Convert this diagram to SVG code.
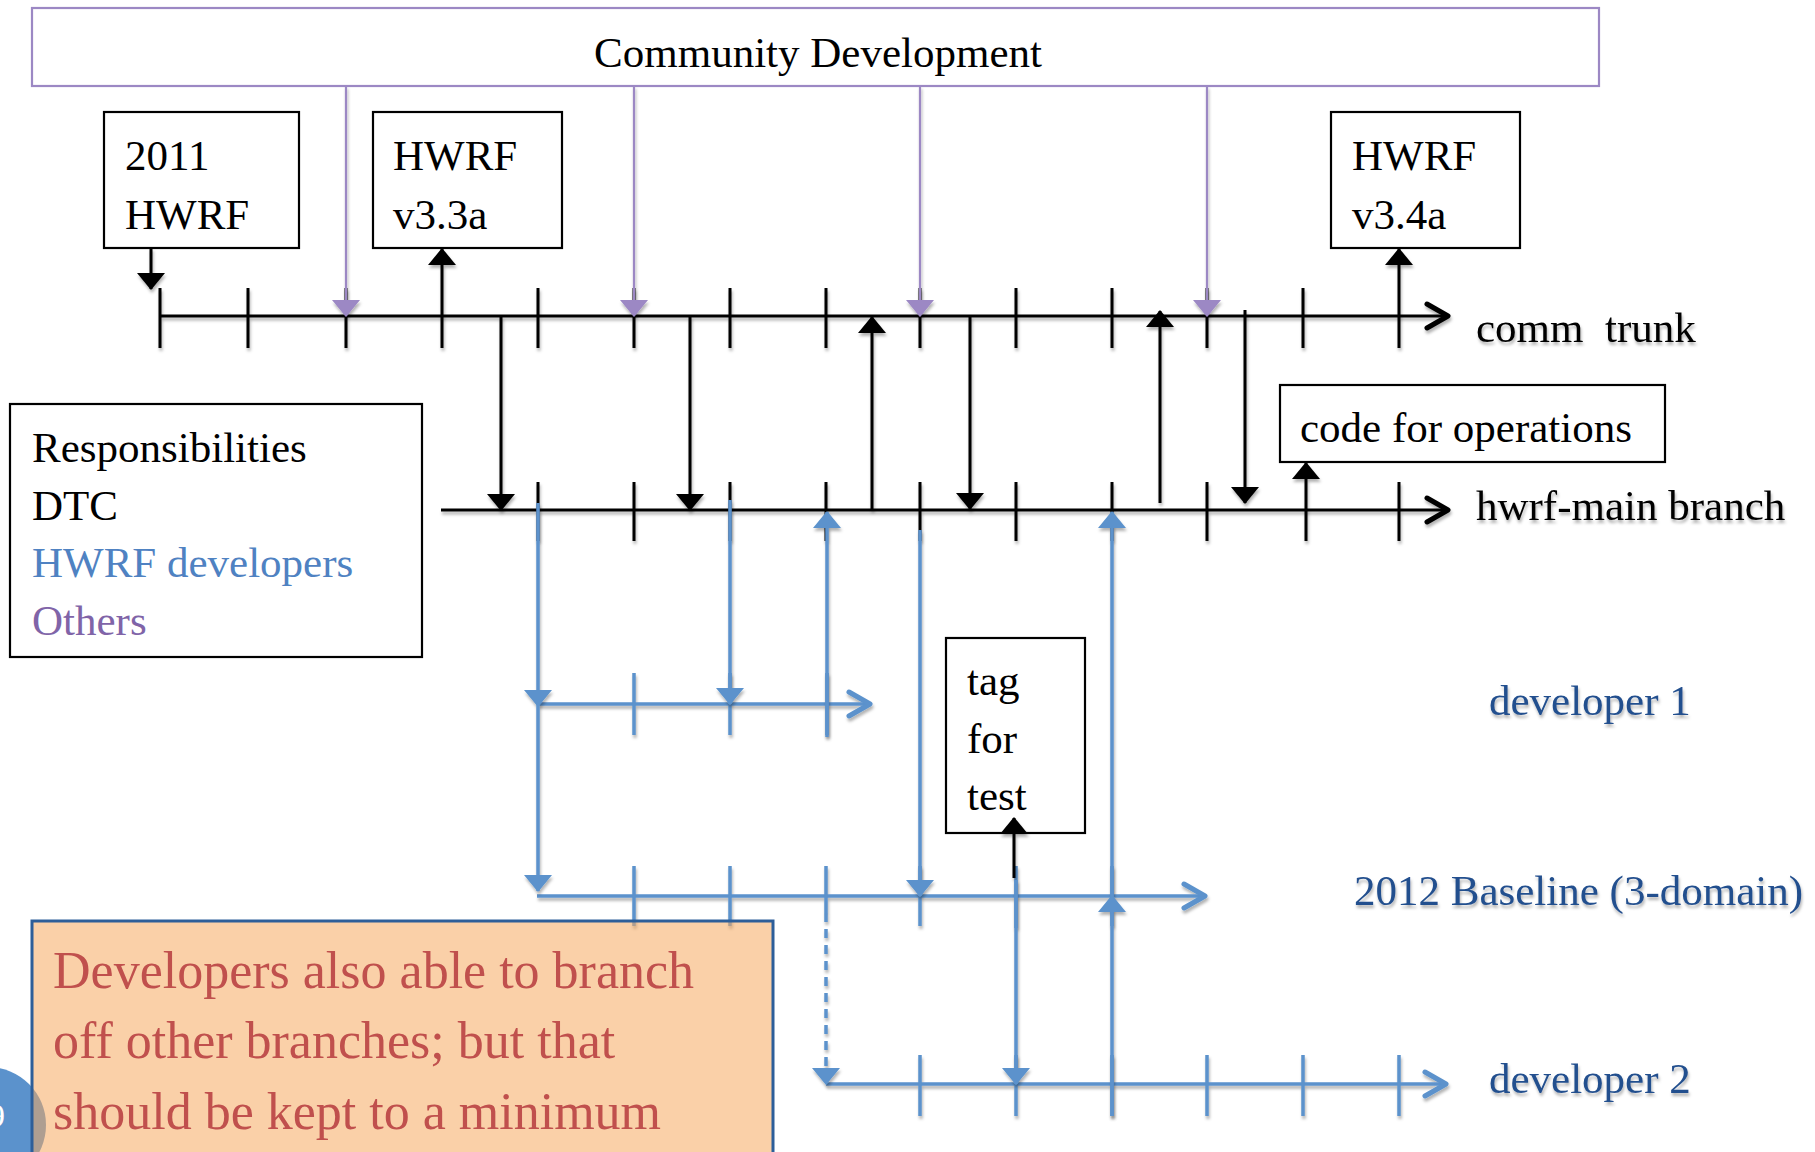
<svg xmlns="http://www.w3.org/2000/svg" width="1815" height="1152" viewBox="0 0 1815 1152">
<style>
text{font-family:"Liberation Serif","Times New Roman",serif;font-size:43px;fill:#000}
.box{fill:#fff;stroke:#000;stroke-width:2.2}
.k{stroke:#000;stroke-width:3;fill:none}
.kt{stroke:#000;stroke-width:3}
.b{stroke:#5b92cc;stroke-width:3.5;fill:none}
.p{stroke:#9c88c4;stroke-width:2.2;fill:none}
.lbl{fill:#234f8e}
</style>
<defs>
<filter id="sh" x="-20%" y="-20%" width="140%" height="140%">
<feDropShadow dx="1" dy="3" stdDeviation="1.6" flood-color="#000" flood-opacity="0.3"/>
</filter>
<marker id="tk" markerUnits="userSpaceOnUse" viewBox="0 -14 17 28" refX="16" refY="0" markerWidth="17" markerHeight="28" orient="auto"><path d="M0,-14 L17,0 L0,14 Z" fill="#000"/></marker>
<marker id="tb" markerUnits="userSpaceOnUse" viewBox="0 -14 17 28" refX="16" refY="0" markerWidth="17" markerHeight="28" orient="auto"><path d="M0,-14 L17,0 L0,14 Z" fill="#5b92cc"/></marker>
<marker id="tp" markerUnits="userSpaceOnUse" viewBox="0 -14 17 28" refX="16" refY="0" markerWidth="17" markerHeight="28" orient="auto"><path d="M0,-14 L17,0 L0,14 Z" fill="#9c88c4"/></marker>
<marker id="ck" markerUnits="userSpaceOnUse" viewBox="-26 -16 30 32" refX="0" refY="0" markerWidth="30" markerHeight="32" orient="auto"><path d="M-21,-12 L0,0 L-21,12" fill="none" stroke="#000" stroke-width="5" stroke-linecap="round" stroke-linejoin="round"/></marker>
<marker id="cb" markerUnits="userSpaceOnUse" viewBox="-26 -16 30 32" refX="0" refY="0" markerWidth="30" markerHeight="32" orient="auto"><path d="M-21,-12 L0,0 L-21,12" fill="none" stroke="#5b92cc" stroke-width="5" stroke-linecap="round" stroke-linejoin="round"/></marker>
</defs>
<rect width="1815" height="1152" fill="#fff"/>

<g id="community-development">
<rect x="32" y="8" width="1567" height="78" fill="none" stroke="#9c88c4" stroke-width="2.2"/>
<text x="818" y="67" text-anchor="middle">Community Development</text>
</g>

<g id="hwrf-2011">
<rect class="box" x="104" y="112" width="195" height="136"/>
<text x="125" y="170">2011</text>
<text x="125" y="229">HWRF</text>
</g>
<g id="hwrf-v33a">
<rect class="box" x="373" y="112" width="189" height="136"/>
<text x="393" y="170">HWRF</text>
<text x="393" y="229">v3.3a</text>
</g>
<g id="hwrf-v34a">
<rect class="box" x="1331" y="112" width="189" height="136"/>
<text x="1352" y="170">HWRF</text>
<text x="1352" y="229">v3.4a</text>
</g>
<g id="code-for-operations">
<rect class="box" x="1280" y="385" width="385" height="77"/>
<text x="1300" y="442">code for operations</text>
</g>
<g id="tag-for-test">
<rect class="box" x="946" y="638" width="139" height="195"/>
<text x="967" y="695">tag</text>
<text x="967" y="753">for</text>
<text x="967" y="810">test</text>
</g>
<g id="responsibilities">
<rect class="box" x="10" y="404" width="412" height="253"/>
<text x="32" y="462">Responsibilities</text>
<text x="32" y="520">DTC</text>
<text x="32" y="577" style="fill:#4f82c2">HWRF developers</text>
<text x="32" y="635" style="fill:#8064a8">Others</text>
</g>

<g id="comm-trunk" filter="url(#sh)">
<line class="k" x1="160" y1="316" x2="1448" y2="316" stroke-width="3.5" marker-end="url(#ck)"/>
<path class="kt" d="M160,288V348M248,288V348M346,288V348M538,288V348M634,288V348M730,288V348M826,288V348M920,288V348M1016,288V348M1112,288V348M1207,288V348M1303,288V348"/>
<text x="1476" y="342" xml:space="preserve" style="white-space:pre">comm  trunk</text>
</g>
<g id="hwrf-main-branch" filter="url(#sh)">
<line class="k" x1="441" y1="510" x2="1448" y2="510" stroke-width="3.5" marker-end="url(#ck)"/>
<path class="kt" d="M538,482V541M634,482V541M730,482V541M826,482V541M920,482V541M1016,482V541M1112,482V541M1207,482V541M1399,482V541"/>
<text x="1476" y="520">hwrf-main branch</text>
</g>
<g id="developer-1" filter="url(#sh)">
<line class="b" x1="538" y1="704" x2="870" y2="704" marker-end="url(#cb)"/>
<path class="b" d="M634,673V735M730,673V735M827,673V735"/>
<text class="lbl" x="1489" y="715">developer 1</text>
</g>
<g id="baseline-2012" filter="url(#sh)">
<line class="b" x1="537" y1="896" x2="1205" y2="896" marker-end="url(#cb)"/>
<path class="b" d="M634,866V926M730,866V926M826,866V913M920,866V926M1016,866V928M1112,866V926"/>
<text class="lbl" x="1354" y="905">2012 Baseline (3-domain)</text>
</g>
<g id="developer-2" filter="url(#sh)">
<line class="b" x1="826" y1="1084" x2="1446" y2="1084" marker-end="url(#cb)"/>
<path class="b" d="M920,1055V1116M1016,1055V1116M1112,1055V1116M1207,1055V1116M1303,1055V1116M1399,1055V1116"/>
<text class="lbl" x="1489" y="1093">developer 2</text>
</g>

<g id="connectors" filter="url(#sh)">
<line class="p" x1="346" y1="86" x2="346" y2="316" marker-end="url(#tp)"/>
<line class="p" x1="634" y1="86" x2="634" y2="316" marker-end="url(#tp)"/>
<line class="p" x1="920" y1="86" x2="920" y2="316" marker-end="url(#tp)"/>
<line class="p" x1="1207" y1="86" x2="1207" y2="316" marker-end="url(#tp)"/>
<line class="k" x1="151" y1="248" x2="151" y2="289" marker-end="url(#tk)"/>
<line class="k" x1="442" y1="348" x2="442" y2="249" marker-end="url(#tk)"/>
<line class="k" x1="1399" y1="348" x2="1399" y2="249" marker-end="url(#tk)"/>
<line class="k" x1="501" y1="316" x2="501" y2="510" marker-end="url(#tk)"/>
<line class="k" x1="690" y1="316" x2="690" y2="510" marker-end="url(#tk)"/>
<line class="k" x1="872" y1="510" x2="872" y2="317" marker-end="url(#tk)"/>
<line class="k" x1="970" y1="316" x2="970" y2="509" marker-end="url(#tk)"/>
<line class="k" x1="1160" y1="503" x2="1160" y2="311" marker-end="url(#tk)"/>
<line class="k" x1="1245" y1="310" x2="1245" y2="503" marker-end="url(#tk)"/>
<line class="k" x1="1306" y1="541" x2="1306" y2="463" marker-end="url(#tk)"/>
<line class="k" x1="1014" y1="878" x2="1014" y2="818" marker-end="url(#tk)"/>
<line class="b" x1="538" y1="503" x2="538" y2="706" marker-end="url(#tb)"/>
<line class="b" x1="538" y1="706" x2="538" y2="891" marker-end="url(#tb)"/>
<line class="b" x1="730" y1="500" x2="730" y2="704" marker-end="url(#tb)"/>
<line class="b" x1="827" y1="737" x2="827" y2="512" marker-end="url(#tb)"/>
<line class="b" x1="920" y1="530" x2="920" y2="896" marker-end="url(#tb)"/>
<line class="b" x1="1112" y1="1116" x2="1112" y2="896" marker-end="url(#tb)"/>
<line class="b" x1="1112" y1="896" x2="1112" y2="512" marker-end="url(#tb)"/>
<line class="b" x1="1016" y1="880" x2="1016" y2="1084" marker-end="url(#tb)"/>
<line class="b" x1="826" y1="913" x2="826" y2="1084" stroke-width="3" stroke-dasharray="9 7" marker-end="url(#tb)"/>
</g>

<g id="slide-number">
<circle cx="-12" cy="1125" r="58" fill="#5b92cc"/>
<text x="-12" y="1127" style="fill:#fff;font-size:34px">9</text>
</g>
<g id="note">
<rect x="32" y="921" width="741" height="260" fill="#f6a95f" fill-opacity="0.54" stroke="#2d5e99" stroke-width="3"/>
<text x="53" y="988" style="fill:#c0504d;font-size:52px">Developers also able to branch</text>
<text x="53" y="1058" style="fill:#c0504d;font-size:52px">off other branches; but that</text>
<text x="53" y="1129" style="fill:#c0504d;font-size:52px">should be kept to a minimum</text>
</g>
</svg>
